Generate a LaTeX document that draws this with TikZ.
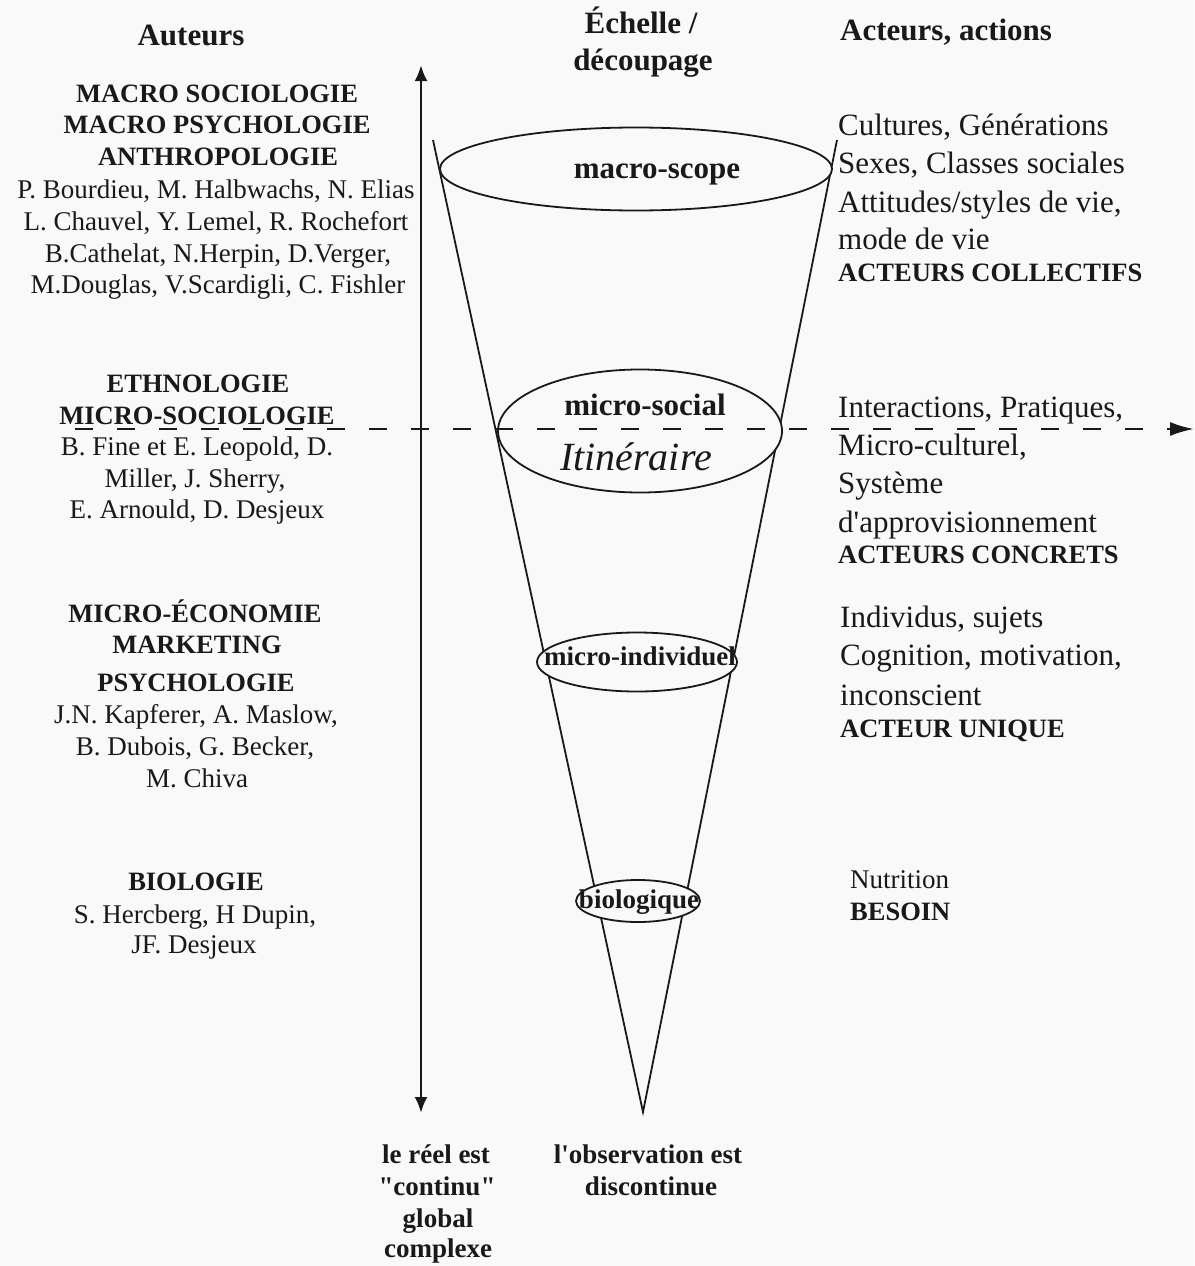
\documentclass[tikz,border=0pt]{standalone}
\usepackage{fontspec}
\setmainfont{Liberation Serif}
\usetikzlibrary{arrows.meta,shapes.geometric}
\definecolor{bgc}{RGB}{249,249,250}
\definecolor{ink}{RGB}{25,25,25}
\begin{document}
\begin{tikzpicture}[x=1pt,y=-1pt,
  txt/.style={inner sep=0pt, anchor=base, text=ink},
  txtw/.style={inner sep=0pt, anchor=base west, text=ink},
  fhead/.style={font=\fontsize{31}{37}\selectfont\bfseries},
  fbl/.style={font=\fontsize{26.5}{31}\selectfont\bfseries},
  fnl/.style={font=\fontsize{27}{31}\selectfont},
  fnr/.style={font=\fontsize{31}{37}\selectfont},
  fbr/.style={font=\fontsize{26.5}{31}\selectfont\bfseries},
  fbc/.style={font=\fontsize{31}{37}\selectfont\bfseries},
  fbs/.style={font=\fontsize{27}{31}\selectfont\bfseries},
  fit/.style={font=\fontsize{40}{45}\selectfont\itshape},
  ell/.style={ellipse, draw=ink, fill=bgc, line width=1.8pt, inner sep=0pt},
  conel/.style={draw=ink, line width=1.8pt},
  axis/.style={draw=ink, line width=2.8pt, {Latex[length=16pt,width=13pt]}-{Latex[length=16pt,width=13pt]}},
  cut/.style={draw=ink, line width=2.4pt, dash pattern=on 18pt off 24pt, -{Latex[length=24pt,width=14pt]}}
]
\path[fill=bgc, use as bounding box] (0,0) rectangle (1194,1266);

% cone
\coordinate (apex) at (643,1112);
\coordinate (ctl) at (433,140);
\coordinate (ctr) at (837,140);
\draw[conel] (ctl) -- (apex) -- (ctr);

% ellipses
\node[ell, minimum width=392pt, minimum height=83pt] (e1) at (636,169) {};
\node[ell, minimum width=284pt, minimum height=123pt] (e2) at (640,431) {};
\node[ell, minimum width=200pt, minimum height=59pt] (e3) at (637,662) {};
\node[ell, minimum width=124pt, minimum height=42pt] (e4) at (638,901) {};

% axis arrow
\coordinate (vt) at (421,65);
\coordinate (vb) at (421,1113);
\draw[axis] (vb) -- (vt);

% dashed cut line
\coordinate (ds) at (75,429);
\coordinate (de) at (1194,429);
\draw[cut] (ds) -- (de);

% headers
\node[txt, fhead] (hA) at (191,45) {Auteurs};
\node[txt, fhead] (hE1) at (641,33) {Échelle /};
\node[txt, fhead] (hE2) at (643,70) {découpage};
\node[txtw, fhead] (hC) at (840,40) {Acteurs, actions};

% labels in the cone
\node[txt, fbc] (t1) at (657,178) {macro-scope};
\node[txt, fbc] (t2) at (645,415) {micro-social};
\node[txt, fit] (t2b) at (636,470) {Itinéraire};
\node[txt, fbs] (t3) at (640,665) {micro-individuel};
\node[txt, fbs] (t4) at (639,908) {biologique};

% left block 1
\node[txt, fbl] (a1) at (217,102) {MACRO SOCIOLOGIE};
\node[txt, fbl] (a2) at (217,133) {MACRO PSYCHOLOGIE};
\node[txt, fbl] (a3) at (218,165) {ANTHROPOLOGIE};
\node[txt, fnl] (a4) at (216,198) {P. Bourdieu, M. Halbwachs, N. Elias};
\node[txt, fnl] (a5) at (216,230) {L. Chauvel, Y. Lemel, R. Rochefort};
\node[txt, fnl] (a6) at (218,262) {B.Cathelat, N.Herpin, D.Verger,};
\node[txt, fnl] (a7) at (218,293) {M.Douglas, V.Scardigli, C. Fishler};

% left block 2
\node[txt, fbl] (b1) at (198,392) {ETHNOLOGIE};
\node[txt, fbl] (b2) at (197,424) {MICRO-SOCIOLOGIE};
\node[txt, fnl] (b3) at (197,455) {B. Fine et E. Leopold, D.};
\node[txt, fnl] (b4) at (195,487) {Miller, J. Sherry,};
\node[txt, fnl] (b5) at (197,518) {E. Arnould, D. Desjeux};

% left block 3
\node[txt, fbl] (c1) at (195,622) {MICRO-ÉCONOMIE};
\node[txt, fbl] (c2) at (197,653) {MARKETING};
\node[txt, fbl] (c3) at (196,691) {PSYCHOLOGIE};
\node[txt, fnl] (c4) at (196,723) {J.N. Kapferer, A. Maslow,};
\node[txt, fnl] (c5) at (195,755) {B. Dubois, G. Becker,};
\node[txt, fnl] (c6) at (197,787) {M. Chiva};

% left block 4
\node[txt, fbl] (d1) at (196,890) {BIOLOGIE};
\node[txt, fnl] (d2) at (195,923) {S. Hercberg, H Dupin,};
\node[txt, fnl] (d3) at (194,953) {JF. Desjeux};

% right block 1
\node[txtw, fnr] (r1) at (838,135) {Cultures, Générations};
\node[txtw, fnr] (r2) at (838,173) {Sexes, Classes sociales};
\node[txtw, fnr] (r3) at (838,212) {Attitudes/styles de vie,};
\node[txtw, fnr] (r4) at (838,249) {mode de vie};
\node[txtw, fbr] (r5) at (838,281) {ACTEURS COLLECTIFS};

% right block 2
\node[txtw, fnr] (s1) at (838,417) {Interactions, Pratiques,};
\node[txtw, fnr] (s2) at (838,455) {Micro-culturel,};
\node[txtw, fnr] (s3) at (838,493) {Système};
\node[txtw, fnr] (s4) at (838,532) {d\textquotesingle approvisionnement};
\node[txtw, fbr] (s5) at (838,563) {ACTEURS CONCRETS};

% right block 3
\node[txtw, fnr] (u1) at (840,627) {Individus, sujets};
\node[txtw, fnr] (u2) at (840,665) {Cognition, motivation,};
\node[txtw, fnr] (u3) at (840,705) {inconscient};
\node[txtw, fbr] (u4) at (840,737) {ACTEUR UNIQUE};

% right block 4
\node[txtw, fnl] (v1) at (850,888) {Nutrition};
\node[txtw, fbr] (v2) at (850,920) {BESOIN};

% bottom
\node[txt, fbs] (w1) at (436,1163) {le réel est};
\node[txt, fbs] (w2) at (437,1195) {\textquotedbl continu\textquotedbl};
\node[txt, fbs] (w3) at (438,1227) {global};
\node[txt, fbs] (w4) at (438,1257) {complexe};
\node[txt, fbs] (x1) at (648,1163) {l\textquotesingle observation est};
\node[txt, fbs] (x2) at (651,1195) {discontinue};
\end{tikzpicture}
\end{document}
